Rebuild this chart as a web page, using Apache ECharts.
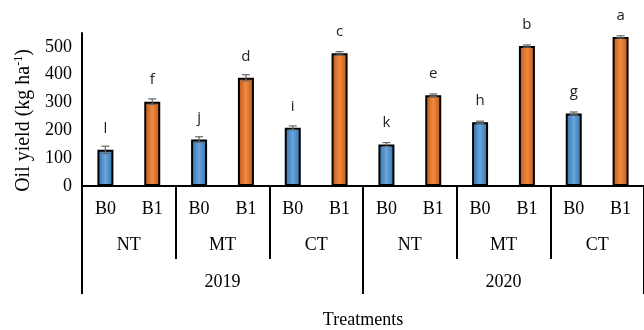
<!DOCTYPE html>
<html>
<head>
<meta charset="utf-8">
<script src="https://cdn.jsdelivr.net/npm/echarts@6/dist/echarts.min.js"></script>
<style>html,body{margin:0;padding:0;background:#fff}#c{width:644px;height:330px}</style>
</head>
<body>
<div id="c"></div>
<script>
var subLabels = ['B0','B1','B0','B1','B0','B1','B0','B1','B0','B1','B0','B1'];
var tillage = ['NT','MT','CT','NT','MT','CT'];
var years = ['2019','2020'];
var oilYield = [130, 303, 167, 389, 209, 477, 149, 326, 229, 503, 261, 536];
var errors = [13, 10, 10, 11, 7, 6, 7, 5, 4, 4, 5, 4];
var letters = ['l','f','j','d','i','c','k','e','h','b','g','a'];
var yTicks = [0, 100, 200, 300, 400, 500];

function grad(edge, mid) {
  return new echarts.graphic.LinearGradient(0, 0, 1, 0, [
    {offset: 0, color: edge}, {offset: 0.5, color: mid}, {offset: 1, color: edge}
  ]);
}
var blue = grad('#2f6ea6', '#6aa6dc');
var orange = grad('#b9561a', '#f08a3e');

var serif = 'Liberation Serif';
var fs = 18;
var chart = echarts.init(document.getElementById('c'));
chart.setOption({
  animation: false,
  grid: {left: 82, right: -10, top: 33, bottom: 139},
  xAxis: [
    {type: 'category', data: subLabels, position: 'bottom',
     axisLine: {lineStyle: {color: '#000', width: 2}},
     axisTick: {show: false},
     axisLabel: {fontFamily: serif, fontSize: fs, color: '#000', margin: 14, interval: 0},
     name: 'Treatments', nameLocation: 'middle', nameGap: 125,
     nameTextStyle: {fontFamily: serif, fontSize: fs, color: '#000'}},
    {type: 'category', data: tillage, position: 'bottom',
     axisLine: {show: false},
     axisTick: {show: true, length: 73, lineStyle: {color: '#000', width: 2}},
     axisLabel: {fontFamily: serif, fontSize: fs, color: '#000', margin: 50}},
    {type: 'category', data: years, position: 'bottom',
     axisLine: {show: false},
     axisTick: {show: true, length: 108, lineStyle: {color: '#000', width: 2}},
     axisLabel: {fontFamily: serif, fontSize: fs, color: '#000', margin: 87}}
  ],
  yAxis: {
    type: 'value', min: 0, max: 550, interval: 100,
    axisLine: {show: true, lineStyle: {color: '#000', width: 2}},
    axisTick: {show: false},
    splitLine: {show: false},
    axisLabel: {fontFamily: serif, fontSize: fs, color: '#000', margin: 10, showMaxLabel: false,
      formatter: function (v) { return yTicks.indexOf(v) >= 0 ? String(v) : ''; }},
    name: '{a|Oil yield (kg ha}{s|-1}{a|)}', nameLocation: 'middle', nameGap: 46,
    nameTextStyle: {
      padding: [0, 22, 0, 0],
      rich: {
        a: {fontFamily: serif, fontSize: 20, color: '#000', lineHeight: 22},
        s: {fontFamily: serif, fontSize: 12, color: '#000', lineHeight: 22, verticalAlign: 'top', padding: [0, 0, 9, 0]}
      }
    }
  },
  series: [
    {type: 'bar', barWidth: 16,
     data: oilYield.map(function (v, i) {
       return {value: v, itemStyle: {color: i % 2 === 0 ? blue : orange}};
     }),
     itemStyle: {borderColor: '#000', borderWidth: 2},
     label: {show: true, position: 'top', distance: 14,
       fontFamily: 'Open Sans', fontSize: 15, color: '#222',
       formatter: function (p) { return letters[p.dataIndex]; }}
    },
    {type: 'custom', z: 10,
     data: oilYield.map(function (v, i) { return [i, v, errors[i]]; }),
     renderItem: function (params, api) {
       var i = api.value(0), v = api.value(1), e = api.value(2);
       var top = api.coord([i, v + e]);
       var bot = api.coord([i, v - e]);
       var w = 4;
       var st = {stroke: '#666', lineWidth: 1.2};
       return {type: 'group', children: [
         {type: 'line', shape: {x1: top[0], y1: top[1], x2: bot[0], y2: bot[1]}, style: st},
         {type: 'line', shape: {x1: top[0] - w, y1: top[1], x2: top[0] + w, y2: top[1]}, style: st},
         {type: 'line', shape: {x1: bot[0] - w, y1: bot[1], x2: bot[0] + w, y2: bot[1]}, style: st}
       ]};
     }
    }
  ]
});
</script>
</body>
</html>
